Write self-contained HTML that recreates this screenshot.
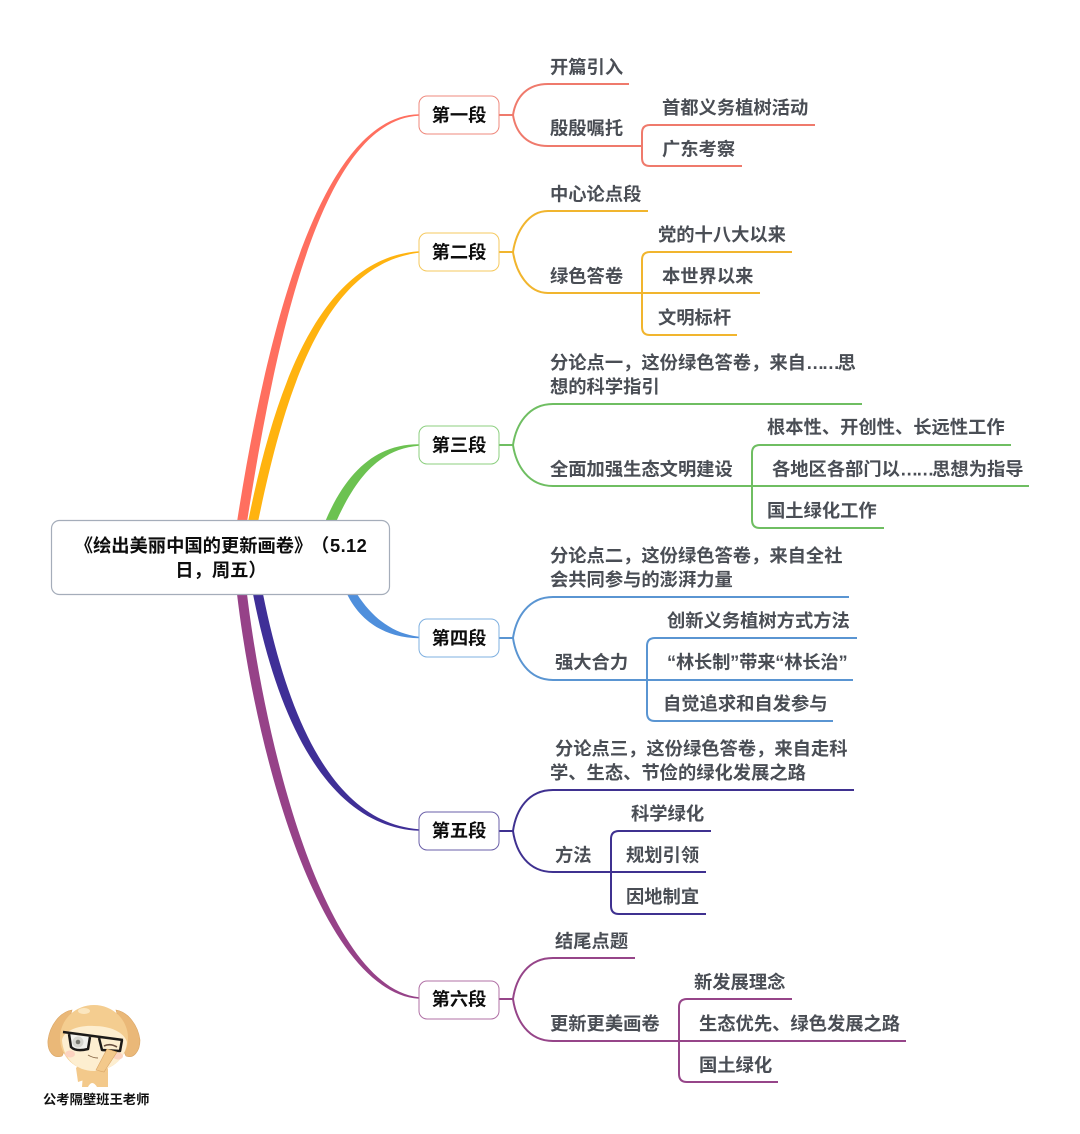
<!DOCTYPE html>
<html><head><meta charset="utf-8"><style>
html,body{margin:0;padding:0;background:#fff}
svg{display:block}
text{font-family:"Liberation Sans","Noto Sans CJK SC",sans-serif;font-weight:700;font-size:18.3px;fill:#4a4e55}
.n{fill:#0d0d0d;text-anchor:middle}
.k{fill:#0d0d0d}
.l{fill:none;stroke-width:2;stroke-linecap:butt}
.b{fill:#fff;stroke-width:1}
</style></head><body>
<svg width="1080" height="1134" viewBox="0 0 1080 1134" xmlns="http://www.w3.org/2000/svg">
<rect width="1080" height="1134" fill="#fff"/>
<!-- main branches -->
<path d="M237 522C267 329 321 116 419 114.200L419 115.800C323 120 277 331 247 522Z" fill="#ff6f5f"/>
<path d="M248 522C275 388 320 258 419 251.200L419 252.800C324 264 285 392 258 522Z" fill="#ffb30f"/>
<path d="M325 522C348 467 380 444 419 444.200L419 445.800C382 449 358 473 336 522Z" fill="#6cc251"/>
<path d="M347 594C362 625 390 638 419 638.300L419 636.700C394 634 373 619 357 594Z" fill="#4f8fdc"/>
<path d="M253 594C280 732 333 827 419 830.800L419 829.200C337 823 290 728 263 594Z" fill="#3f2f97"/>
<path d="M237 594C257 762 322 992 419 998.800L419 997.200C328 988 267 758 247 594Z" fill="#964288"/>
<!-- section 1 -->
<path class="l" stroke="#ef7a6c" d="M499 115H513M513 115C516 96 528 84 548 84H629M513 115C516 134 528 146 548 146H642M642 146V133Q642 125 650 125H815M642 146V158Q642 166 650 166H742"/>
<rect class="b" x="419" y="96" width="80" height="38" rx="8" stroke="#ef8a7e"/>
<text class="n" x="459" y="121.500">第一段</text>
<text x="550" y="73.500">开篇引入</text>
<text x="550" y="134.500">殷殷嘱托</text>
<text x="662" y="114">首都义务植树活动</text>
<text x="662" y="155.500">广东考察</text>
<!-- section 2 -->
<path class="l" stroke="#f1b52e" d="M499 252H513M513 252C516 232 528 211 548 211H648M513 252C516 272 528 293 548 293H760M650 252H792M642 293V260Q642 252 650 252M642 293V327Q642 335 650 335H737"/>
<rect class="b" x="419" y="233" width="80" height="38" rx="8" stroke="#f5c95f"/>
<text class="n" x="459" y="258.500">第二段</text>
<text x="550" y="200.500">中心论点段</text>
<text x="550" y="282.500">绿色答卷</text>
<text x="658" y="241">党的十八大以来</text>
<text x="662" y="282.500">本世界以来</text>
<text x="658" y="324">文明标杆</text>
<!-- section 3 -->
<path class="l" stroke="#6fbe62" d="M499 445H513M513 445C516 425 528 404 553 404H862M513 445C516 465 528 486 553 486H1029M752 486V453Q752 445 760 445H1011M752 486V520Q752 528 760 528H884"/>
<rect class="b" x="419" y="426" width="80" height="38" rx="8" stroke="#8ccf7f"/>
<text class="n" x="459" y="451.500">第三段</text>
<text x="550" y="369">分论点一，这份绿色答卷，来自<tspan style="letter-spacing:-2.500px">……</tspan>思</text>
<text x="550" y="393">想的科学指引</text>
<text x="550" y="475.500">全面加强生态文明建设</text>
<text x="767" y="433.500">根本性、开创性、长远性工作</text>
<text x="772" y="475.500">各地区各部门以<tspan style="letter-spacing:-2.200px">……</tspan>思想为指导</text>
<text x="767" y="517">国土绿化工作</text>
<!-- section 4 -->
<path class="l" stroke="#5a95d2" d="M499 638H513M513 638C516 618 528 597 553 597H849M513 638C516 658 528 680 553 680H853M647 680V646Q647 638 655 638H857M647 680V713Q647 721 655 721H833"/>
<rect class="b" x="419" y="619" width="80" height="38" rx="8" stroke="#7fb0e0"/>
<text class="n" x="459" y="644.500">第四段</text>
<text x="550" y="562">分论点二，这份绿色答卷，来自全社</text>
<text x="550" y="586">会共同参与的澎湃力量</text>
<text x="555" y="668.500">强大合力</text>
<text x="667" y="627">创新义务植树方式方法</text>
<text x="667" y="668.500" style="letter-spacing:-.2px">“林长制”带来“林长治”</text>
<text x="663" y="710">自觉追求和自发参与</text>
<!-- section 5 -->
<path class="l" stroke="#3f3190" d="M499 831H513M513 831C516 810 528 790 553 790H854M513 831C516 852 528 872 553 872H706M611 872V839Q611 831 619 831H711M611 872V906Q611 914 619 914H706"/>
<rect class="b" x="419" y="812" width="80" height="38" rx="8" stroke="#6a5fa8"/>
<text class="n" x="459" y="837">第五段</text>
<text x="555" y="755">分论点三，这份绿色答卷，来自走科</text>
<text x="550" y="779">学、生态、节俭的绿化发展之路</text>
<text x="555" y="861.500">方法</text>
<text x="631" y="820">科学绿化</text>
<text x="626" y="861.500">规划引领</text>
<text x="626" y="903">因地制宜</text>
<!-- section 6 -->
<path class="l" stroke="#964589" d="M499 999H513M513 999C516 978 528 958 553 958H635M513 999C516 1020 528 1041 553 1041H906M679 1041V1007Q679 999 687 999H792M679 1041V1074Q679 1082 687 1082H778"/>
<rect class="b" x="419" y="981" width="80" height="38" rx="8" stroke="#b070a5"/>
<text class="n" x="459" y="1005.500">第六段</text>
<text x="555" y="947.500">结尾点题</text>
<text x="550" y="1030">更新更美画卷</text>
<text x="694" y="988.500">新发展理念</text>
<text x="699" y="1030">生态优先、绿色发展之路</text>
<text x="699" y="1071.500">国土绿化</text>
<!-- central -->
<rect x="51.500" y="520.500" width="338" height="74" rx="8" fill="#fff" stroke="#a5adba" stroke-width="1.200"/>
<text class="k" x="74.700" y="552">《绘出美丽中国的更新画卷》</text>
<text class="k" x="311" y="552">（</text>
<text class="k" x="330" y="552" style="letter-spacing:.4px">5.12</text>
<text class="n" x="221" y="576.500">日，周五）</text>
<!-- dog -->
<path d="M76 1068L84 1060V1080L78 1082Z" fill="#f3c98b"/>
<path d="M84 1060H108V1087H97Q92 1079 88 1087H82Z" fill="#f3c98b"/>
<path d="M72 1010C60 1012 50 1025 48 1040C47 1052 54 1059 62 1056C66 1050 66 1030 72 1010Z" fill="#eab878" stroke="#d9a566" stroke-width=".6"/>
<path d="M116 1010C128 1012 138 1025 140 1040C140 1052 133 1059 126 1056C122 1050 122 1030 116 1010Z" fill="#eab878" stroke="#d9a566" stroke-width=".6"/>
<ellipse cx="94" cy="1038" rx="34" ry="33" fill="#f4cd90"/>
<path d="M62 1040C64 1030 80 1025 94 1026C110 1026 124 1032 127 1042C126 1058 112 1071 94 1071C76 1071 63 1058 62 1040Z" fill="#fdeed0"/>
<ellipse cx="70" cy="1054" rx="5" ry="3.500" fill="#fcd3c0"/>
<ellipse cx="118" cy="1056" rx="5" ry="3.500" fill="#fcd3c0"/>
<ellipse cx="84" cy="1011" rx="6" ry="3" fill="#fbe6bf"/>
<path d="M70 1034L90 1037L88 1049Q76 1052 71 1047Z" fill="#f2f2ee"/>
<circle cx="78" cy="1042" r="5.500" fill="#d6d6d0"/>
<circle cx="78" cy="1042" r="2.300" fill="#77776f"/>
<path d="M63 1032L123 1040M69 1034L71 1047Q76 1052 88 1049L90 1037M99 1038L102 1050L120 1051L122 1040" fill="none" stroke="#1c1a18" stroke-width="2.500" stroke-linejoin="round"/>
<path d="M104 1046Q110 1043 117 1047" fill="none" stroke="#6a5040" stroke-width="1.600"/>
<path d="M88 1055Q93 1058 98 1058" fill="none" stroke="#8a6a4a" stroke-width="1"/>
<path d="M107 1049L117 1052L104 1072L96 1070Z" fill="#f3c98b" stroke="#d9a566" stroke-width=".6"/>
<text x="43" y="1104" style="font-size:13.300px;fill:#111">公考隔壁班王老师</text>
</svg>
</body></html>
